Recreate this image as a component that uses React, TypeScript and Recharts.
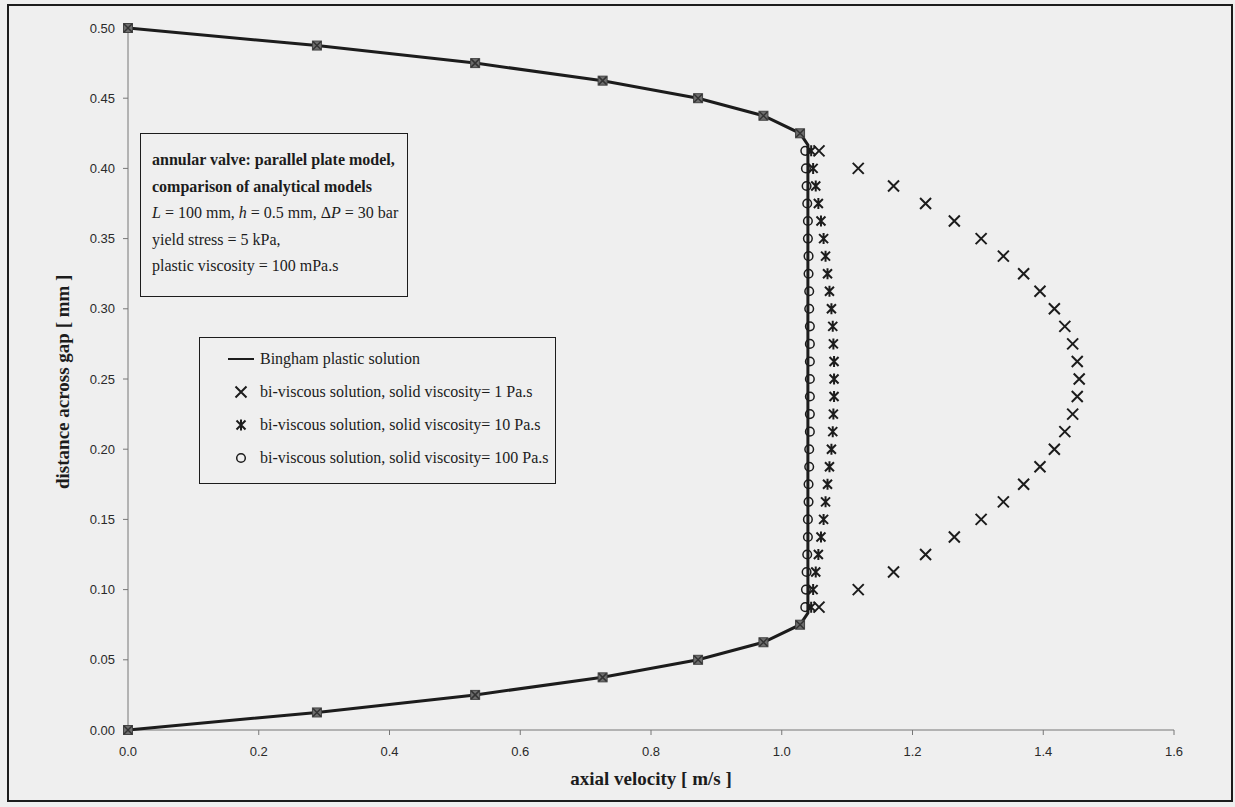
import React from 'react'
import { ScatterChart, Scatter, XAxis, YAxis } from 'recharts'

// gap positions [mm] of the computed nodes
const shearDepths = [0, 0.0125, 0.025, 0.0375, 0.05, 0.0625, 0.075]
const shearVelocity = [0, 0.289, 0.531, 0.726, 0.872, 0.972, 1.028]
const plugVelocity = 1.04
const plugEdges = [0.0833, 0.4167]

const plugDepths = [
  0.4125, 0.4, 0.3875, 0.375, 0.3625, 0.35, 0.3375, 0.325, 0.3125, 0.3, 0.2875, 0.275, 0.2625,
  0.25,
  0.2375, 0.225, 0.2125, 0.2, 0.1875, 0.175, 0.1625, 0.15, 0.1375, 0.125, 0.1125, 0.1, 0.0875,
]
const solid1 = [
  1.057, 1.117, 1.171, 1.22, 1.264, 1.305, 1.339, 1.37, 1.395, 1.417, 1.433, 1.445, 1.452,
  1.455,
  1.452, 1.445, 1.433, 1.417, 1.395, 1.37, 1.339, 1.305, 1.264, 1.22, 1.171, 1.117, 1.057,
]
const solid10 = [
  1.045, 1.048, 1.052, 1.056, 1.06, 1.064, 1.067, 1.07, 1.073, 1.076, 1.078, 1.079, 1.08,
  1.08,
  1.08, 1.079, 1.078, 1.076, 1.073, 1.07, 1.067, 1.064, 1.06, 1.056, 1.052, 1.048, 1.045,
]
const solid100 = [
  1.036, 1.037, 1.038, 1.039, 1.04, 1.04, 1.041, 1.041, 1.042, 1.042, 1.043, 1.043, 1.043,
  1.043,
  1.043, 1.043, 1.043, 1.042, 1.042, 1.041, 1.041, 1.04, 1.04, 1.039, 1.038, 1.037, 1.036,
]

const xTicks = [0, 0.2, 0.4, 0.6, 0.8, 1.0, 1.2, 1.4, 1.6]
const yTicks = [0, 0.05, 0.1, 0.15, 0.2, 0.25, 0.3, 0.35, 0.4, 0.45, 0.5]

const legendLabels = [
  'Bingham plastic solution',
  'bi-viscous solution, solid viscosity= 1 Pa.s',
  'bi-viscous solution, solid viscosity= 10 Pa.s',
  'bi-viscous solution, solid viscosity= 100 Pa.s',
]

// lower shear layer, then the mirrored upper one (gap = 0.5 mm)
const lowerNodes = shearDepths.map((d, i) => ({ v: shearVelocity[i], d }))
const upperNodes = shearDepths.map((d, i) => ({ v: shearVelocity[i], d: 0.5 - d })).reverse()
const binghamNodes = [...lowerNodes, ...upperNodes]
const binghamCurve = [
  ...lowerNodes,
  { v: plugVelocity, d: plugEdges[0] },
  { v: plugVelocity, d: plugEdges[1] },
  ...upperNodes,
]
const toPoints = (vals: number[]) => plugDepths.map((d, i) => ({ v: vals[i], d }))

const INK = '#1c1c1c'
const BG = '#efefef'
const serif = '"Liberation Serif", "Times New Roman", serif'
const sans = '"Liberation Sans", Arial, sans-serif'

const SquareMark = ({ cx, cy }: any) => (
  <g>
    <rect x={cx - 4.5} y={cy - 4.5} width={9} height={9} fill="#6e6e6e" stroke="#444" strokeWidth={1} />
    <path d={`M${cx - 4},${cy - 4}L${cx + 4},${cy + 4}M${cx - 4},${cy + 4}L${cx + 4},${cy - 4}`} stroke="#333" strokeWidth={1.5} />
  </g>
)
const CrossMark = ({ cx, cy }: any) => (
  <path d={`M${cx - 5.5},${cy - 5.5}L${cx + 5.5},${cy + 5.5}M${cx - 5.5},${cy + 5.5}L${cx + 5.5},${cy - 5.5}`} stroke={INK} strokeWidth={2} />
)
const StarMark = ({ cx, cy }: any) => (
  <path
    d={`M${cx - 4.5},${cy - 4.5}L${cx + 4.5},${cy + 4.5}M${cx - 4.5},${cy + 4.5}L${cx + 4.5},${cy - 4.5}M${cx},${cy - 5.5}L${cx},${cy + 5.5}`}
    stroke={INK}
    strokeWidth={2}
  />
)
const CircleMark = ({ cx, cy }: any) => (
  <circle cx={cx} cy={cy} r={4.3} fill="none" stroke={INK} strokeWidth={1.5} />
)
const NoMark = () => <g />

const legendIcons = [
  <line x1={0} y1={8} x2={26} y2={8} stroke={INK} strokeWidth={2} />,
  <CrossMark cx={13} cy={8} />,
  <StarMark cx={13} cy={8} />,
  <CircleMark cx={13} cy={8} />,
]

export default function App() {
  return (
    <div style={{ position: 'absolute', left: 0, top: 0, width: 1235, height: 807, background: BG, overflow: 'hidden' }}>
      <div style={{ position: 'absolute', left: 7, top: 4, width: 1222, height: 794, border: `2px solid ${INK}` }} />
      <ScatterChart width={1235} height={807} margin={{ top: 28, right: 61, bottom: 0, left: 0 }}>
        <XAxis
          type="number"
          dataKey="v"
          domain={[0, 1.6]}
          ticks={xTicks}
          tickFormatter={(t: number) => t.toFixed(1)}
          height={77}
          stroke="#777"
          tickSize={5}
          tick={{ fill: '#2a2a2a', fontFamily: sans, fontSize: 13, dy: 10 }}
          label={{ value: 'axial velocity [ m/s ]', position: 'insideBottom', offset: 22, fill: INK, fontFamily: serif, fontWeight: 'bold', fontSize: 19 }}
        />
        <YAxis
          type="number"
          dataKey="d"
          domain={[0, 0.5]}
          ticks={yTicks}
          tickFormatter={(t: number) => t.toFixed(2)}
          width={128}
          stroke="#777"
          tickSize={5}
          tick={{ fill: '#2a2a2a', fontFamily: sans, fontSize: 13, dx: -6 }}
          label={{ value: 'distance across gap [ mm ]', angle: -90, position: 'insideLeft', offset: 62, dy: 110, fill: INK, fontFamily: serif, fontWeight: 'bold', fontSize: 19 }}
        />
        {/* plot frame on the top and right */}
        <XAxis xAxisId="top" orientation="top" type="number" domain={[0, 1.6]} tick={false} tickLine={false} stroke="#888" height={0} />
        <YAxis yAxisId="right" orientation="right" type="number" domain={[0, 0.5]} tick={false} tickLine={false} stroke="#888" width={0} />
        <Scatter data={binghamCurve} line={{ stroke: INK, strokeWidth: 3 }} shape={NoMark} isAnimationActive={false} />
        <Scatter data={toPoints(solid100)} shape={CircleMark} isAnimationActive={false} />
        <Scatter data={toPoints(solid10)} shape={StarMark} isAnimationActive={false} />
        <Scatter data={toPoints(solid1)} shape={CrossMark} isAnimationActive={false} />
        <Scatter data={binghamNodes} shape={SquareMark} isAnimationActive={false} />
      </ScatterChart>

      <div
        style={{
          position: 'absolute', left: 140, top: 133, width: 268, height: 164,
          border: `1.5px solid ${INK}`, background: BG, fontFamily: serif, fontSize: 16, color: INK,
          lineHeight: '26.5px', padding: '13px 0 0 11px', boxSizing: 'border-box', whiteSpace: 'nowrap',
        }}
      >
        <div style={{ fontWeight: 'bold' }}>annular valve: parallel plate model,</div>
        <div style={{ fontWeight: 'bold' }}>comparison of analytical models</div>
        <div>
          <i>L</i> = 100 mm, <i>h</i> = 0.5 mm, Δ<i>P</i> = 30 bar
        </div>
        <div>yield stress = 5 kPa,</div>
        <div>plastic viscosity = 100 mPa.s</div>
      </div>

      <div
        style={{
          position: 'absolute', left: 199, top: 337, width: 357, height: 147,
          border: `1.5px solid ${INK}`, background: BG, fontFamily: serif, fontSize: 16, color: INK,
          padding: '4px 0 0 28px', boxSizing: 'border-box', whiteSpace: 'nowrap',
        }}
      >
        {legendLabels.map((label, i) => (
          <div key={label} style={{ display: 'flex', alignItems: 'center', height: 33 }}>
            <svg width={30} height={16} style={{ marginRight: 2 }}>{legendIcons[i]}</svg>
            <span>{label}</span>
          </div>
        ))}
      </div>
    </div>
  )
}
